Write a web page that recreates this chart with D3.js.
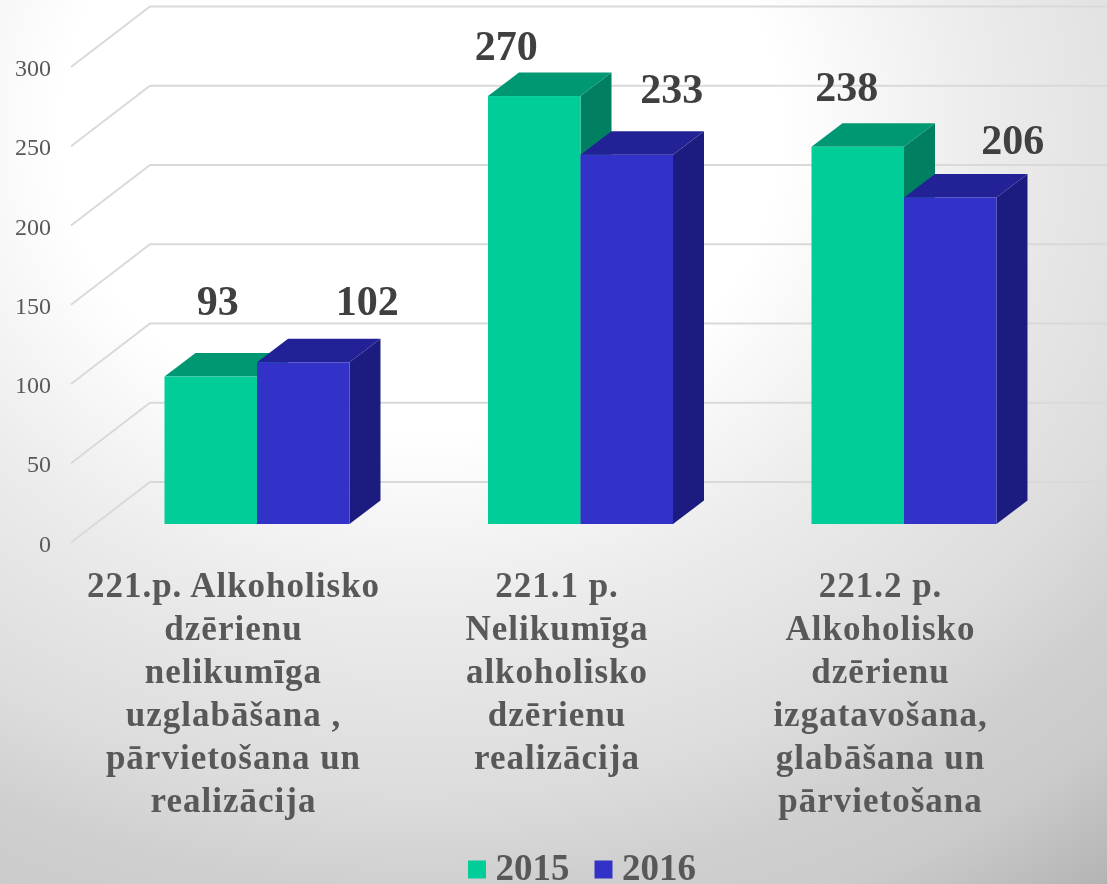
<!DOCTYPE html>
<html><head><meta charset="utf-8">
<script src="https://cdn.jsdelivr.net/npm/d3@7/dist/d3.min.js"></script>
<style>html,body{margin:0;padding:0;background:#fff;overflow:hidden}svg{display:block}text{font-family:"Liberation Serif",serif}</style>
</head><body><div id="c"></div>
<script>
const categoryLines = [["221.p. Alkoholisko","dzērienu","nelikumīga","uzglabāšana ,","pārvietošana un","realizācija"],["221.1 p.","Nelikumīga","alkoholisko","dzērienu","realizācija"],["221.2 p.","Alkoholisko","dzērienu","izgatavošana,","glabāšana un","pārvietošana"]];
const seriesNames = ["2015","2016"];
const values2015 = [93,270,238];
const values2016 = [102,233,206];
const yTicks = [0,50,100,150,200,250,300];
const frontColors = ["#00CD98","#3232C8"];
const topColors = ["#009873","#232396"];
const sideColors = ["#008060","#1F1F80"];

const W=1107,H=884;
const svg=d3.select("#c").append("svg").attr("width",W).attr("height",H);
const defs=svg.append("defs");
const g=defs.append("radialGradient").attr("id","bg").attr("gradientUnits","userSpaceOnUse")
 .attr("cx",0).attr("cy",0).attr("r",1).attr("gradientTransform","translate(420,130) scale(1125,950)");
[[0,"#ffffff"],[0.32,"#ffffff"],[0.5,"#ececec"],[0.7,"#dcdcdc"],[0.8,"#cfcfcf"],[0.88,"#cbcbcb"],[1,"#b4b4b4"]].forEach(s=>g.append("stop").attr("offset",s[0]).attr("stop-color",s[1]));
defs.append("filter").attr("id","soft").append("feGaussianBlur").attr("stdDeviation",0.5);
svg.append("rect").attr("width",W).attr("height",H).attr("fill","url(#bg)");

// 3D projection constants
const wallX=150, floorDX=-79, floorDY=60.5, barDX=31, barDY=23.5;
const y=d3.scaleLinear().domain([0,300]).range([482,6.5]);
const catX=d3.scalePoint().domain(d3.range(categoryLines.length)).range([257,904]);
const barW=92.5;
const frontBase=42;

const root=svg.append("g").attr("filter","url(#soft)");
root.append("g").selectAll("path").data(yTicks).join("path")
 .attr("d",d=>d3.line()([[wallX+floorDX,y(d)+floorDY],[wallX,y(d)],[W,y(d)]]))
 .attr("fill","none").attr("stroke","#d9d9d9").attr("stroke-width",1.9);
root.append("g").selectAll("text").data(yTicks).join("text")
 .attr("x",51).attr("y",d=>y(d)+floorDY+9).attr("text-anchor","end")
 .attr("font-size",24).attr("fill","#595959").text(d=>d);

const bars=[];
categoryLines.forEach((c,i)=>{
 bars.push({i,s:0,v:values2015[i]});
 bars.push({i,s:1,v:values2016[i]});
});
const bx=d=>catX(d.i)+(d.s-1)*barW;
const by=d=>y(d.v)+frontBase;
const b0=y(0)+frontBase;
const bg=root.append("g").selectAll("g").data(bars).join("g");
bg.append("path").attr("fill",d=>sideColors[d.s]).attr("d",d=>{
 const r=bx(d)+barW,t=by(d);
 return d3.line()([[r,t],[r+barDX,t-barDY],[r+barDX,b0-barDY],[r,b0]])+"Z";});
bg.append("path").attr("fill",d=>topColors[d.s]).attr("d",d=>{
 const l=bx(d),t=by(d);
 return d3.line()([[l,t],[l+barDX,t-barDY],[l+barW+barDX,t-barDY],[l+barW,t]])+"Z";});
bg.append("rect").attr("x",bx).attr("y",by).attr("width",barW).attr("height",d=>b0-by(d)).attr("fill",d=>frontColors[d.s]);

// value labels: manual placement relative to each bar's front top centre
const labelDX=[7,64,-28,45,-11,62.5], labelDY=[-62,-47,-36,-52,-46,-43];
root.append("g").selectAll("text").data(bars).join("text")
 .attr("x",(d,k)=>bx(d)+barW/2+labelDX[k])
 .attr("y",(d,k)=>by(d)+labelDY[k])
 .attr("text-anchor","middle").attr("font-weight","bold").attr("font-size",42).attr("fill","#404040").text(d=>d.v);

const cat=root.append("g").selectAll("text").data(categoryLines).join("text")
 .attr("text-anchor","middle").attr("font-weight","bold").attr("font-size",35).attr("letter-spacing",1).attr("fill","#595959");
cat.selectAll("tspan").data((d,i)=>d.map(t=>({t,i}))).join("tspan")
 .attr("x",d=>catX(d.i)-23.5).attr("y",(d,j)=>597+j*43).text(d=>d.t);

const lg=root.append("g").selectAll("g").data(seriesNames).join("g").attr("transform",(d,i)=>`translate(${468+i*126.5},0)`);
lg.append("rect").attr("y",860.5).attr("width",18).attr("height",18).attr("fill",(d,i)=>frontColors[i]);
lg.append("text").attr("x",27.5).attr("y",880).attr("font-size",37).attr("font-weight","bold").attr("fill","#595959").text(d=>d);
</script></body></html>
